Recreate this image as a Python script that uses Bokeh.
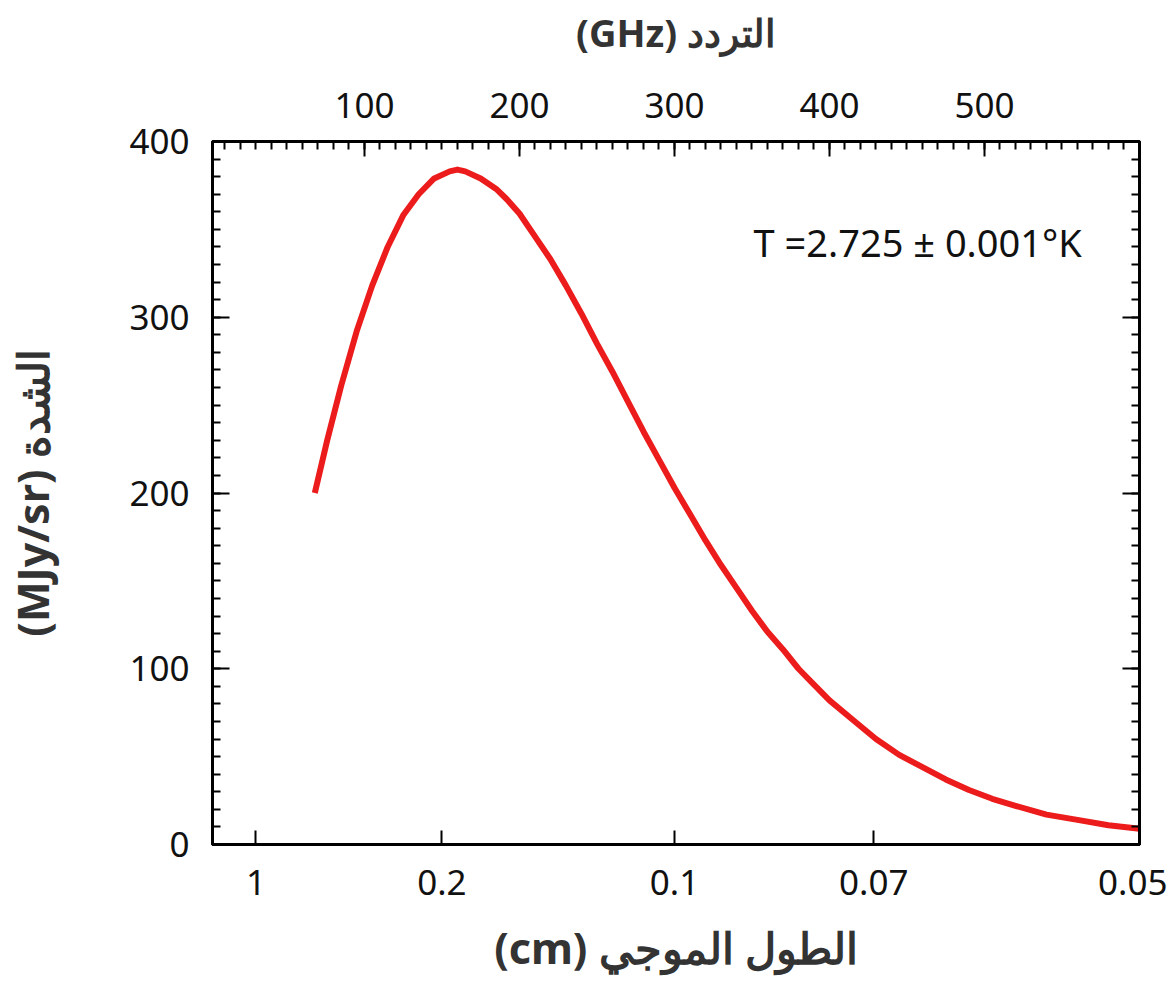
from bokeh.plotting import figure
from bokeh.models import LinearAxis, FixedTicker, Range1d, Label, CustomJSTickFormatter
from bokeh.embed import file_html
from bokeh.resources import INLINE

# Data (frequency in GHz, intensity in MJy/sr)
freq_ghz = [68, 76, 85, 95, 105, 115, 125, 135, 145, 155, 160, 165, 175, 185, 192, 200,
            210, 220, 230, 240, 250, 260, 270, 280, 290, 300, 310, 320, 330, 340, 350,
            360, 370, 380, 390, 400, 415, 430, 445, 460, 475, 490, 505, 520, 540, 560,
            580, 600]
intensity = [200, 230, 261, 292, 318, 340, 358, 370, 379, 383, 384, 383, 379, 373, 367, 359,
             346, 333, 318, 302, 285, 269, 252, 235, 219, 203, 188, 173, 159, 146, 133,
             121, 111, 100, 91, 82, 71, 60, 51, 44, 37, 31, 26, 22, 17, 14,
             11, 9]

freq_ticks = [100, 200, 300, 400, 500]
y_ticks = [0, 100, 200, 300, 400]
wl_labels = ["1", "0.2", "0.1", "0.07", "0.05"]
wl_cm = [1, 0.2, 0.1, 0.07, 0.05]
wl_tick_pos = [30.0 / w for w in wl_cm]  # GHz = 30 / cm

FONT = "Noto Sans"
TICK_SIZE = "35px"

p = figure(frame_width=927, frame_height=703,
           x_range=Range1d(2, 600), y_range=Range1d(0, 400),
           x_axis_location=None, y_axis_location=None,
           output_backend="svg", toolbar_location=None,
           min_border_left=210, min_border_right=28,
           min_border_top=141, min_border_bottom=128,
           background_fill_color="white", border_fill_color="white")
p.grid.grid_line_color = None
p.outline_line_color = "black"
p.outline_line_width = 3


def style(ax, major_in=15, minor_in=8):
    ax.axis_line_color = "black"
    ax.axis_line_width = 3
    ax.major_tick_in = major_in
    ax.major_tick_out = 0
    ax.minor_tick_in = minor_in
    ax.minor_tick_out = 0
    ax.major_tick_line_color = "black"
    ax.major_tick_line_width = 2
    ax.minor_tick_line_color = "black"
    ax.minor_tick_line_width = 2
    ax.major_label_text_font = FONT
    ax.major_label_text_font_size = TICK_SIZE
    ax.major_label_text_color = "#111111"


minor_y = list(range(0, 401, 10))
minor_x = list(range(10, 601, 10))

left = LinearAxis(ticker=FixedTicker(ticks=y_ticks, minor_ticks=minor_y))
style(left, 17, 8)
left.major_label_standoff = 23
left.axis_label = "(MJy/sr) الشدة"
left.axis_label_text_font = FONT
left.axis_label_text_font_style = "bold"
left.axis_label_text_font_size = "43px"
left.axis_label_text_color = "#333333"
left.axis_label_standoff = 64
p.add_layout(left, "left")

right = LinearAxis(ticker=FixedTicker(ticks=y_ticks, minor_ticks=minor_y),
                   formatter=CustomJSTickFormatter(code="return ''"))
style(right, 17, 8)
right.major_label_standoff = 0
p.add_layout(right, "right")

top = LinearAxis(ticker=FixedTicker(ticks=freq_ticks, minor_ticks=minor_x))
style(top, 15, 8)
top.major_label_standoff = 24
top.axis_label = "(GHz) التردد"
top.axis_label_text_font = FONT
top.axis_label_text_font_style = "bold"
top.axis_label_text_font_size = "38px"
top.axis_label_text_color = "#333333"
top.axis_label_standoff = 32
p.add_layout(top, "above")

bottom = LinearAxis(ticker=FixedTicker(ticks=wl_tick_pos, minor_ticks=[]),
                    formatter=CustomJSTickFormatter(args=dict(labels=wl_labels),
                                                    code="return labels[index];"))
style(bottom, 14, 0)
bottom.major_label_standoff = 25
bottom.axis_label = "(cm) الطول الموجي"
bottom.axis_label_text_font = FONT
bottom.axis_label_text_font_style = "bold"
bottom.axis_label_text_font_size = "43px"
bottom.axis_label_text_color = "#333333"
bottom.axis_label_standoff = 20
p.add_layout(bottom, "below")

p.line(freq_ghz, intensity, line_color="#ec1c1c", line_width=6, line_join="round")

p.add_layout(Label(x=351, y=343, text="T =2.725 ± 0.001°K", text_align="left",
                   text_baseline="middle", text_font=FONT, text_font_size="38px",
                   text_color="#111111"))

open("out.html", "w").write(file_html(p, INLINE))
